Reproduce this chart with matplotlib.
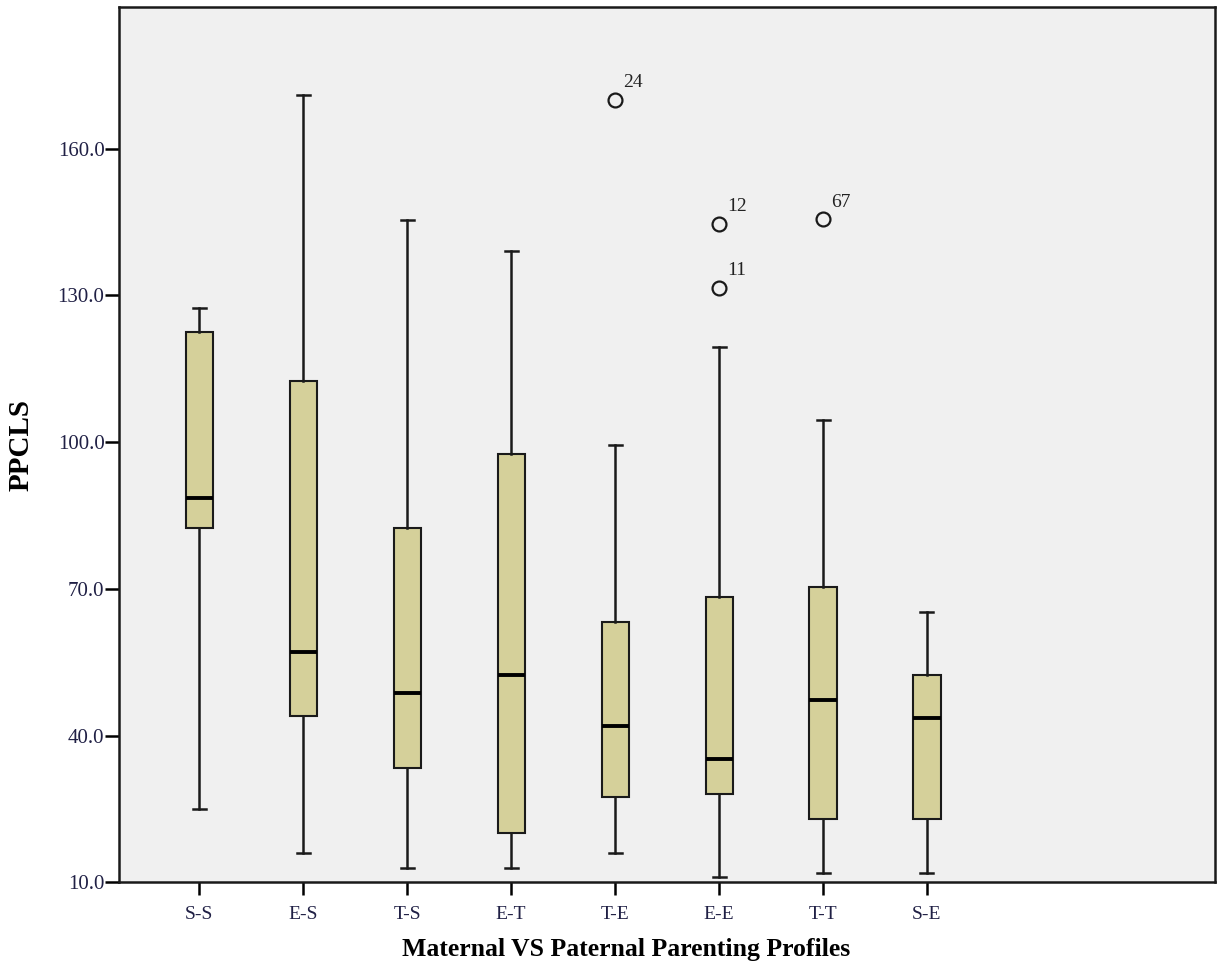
import matplotlib
matplotlib.use("Agg")
import matplotlib.pyplot as plt

plt.rcParams['font.family'] = ['Liberation Serif', 'DejaVu Serif']

# summary values
groups = ['S-S', 'E-S', 'T-S', 'E-T', 'T-E', 'E-E', 'T-T', 'S-E']
whis_lo = [25, 16, 13, 13, 16, 11, 12, 12]
q1 = [82.5, 44, 33.3, 20, 27.5, 28, 23, 23]
medians = [88.5, 57, 48.8, 52.3, 42, 35.3, 47.2, 43.7]
q3 = [122.5, 112.5, 82.5, 97.5, 63.2, 68.3, 70.4, 52.3]
whis_hi = [127.5, 171, 145.5, 139, 99.5, 119.5, 104.5, 65.3]

# outliers: (group index, value, case label)
out_group = [4, 5, 5, 6]
out_value = [170, 144.7, 131.6, 145.6]
out_label = ['24', '12', '11', '67']

stats = []
for i, g in enumerate(groups):
    fl = [v for gi, v in zip(out_group, out_value) if gi == i]
    stats.append(dict(label=g, whislo=whis_lo[i], q1=q1[i], med=medians[i],
                      q3=q3[i], whishi=whis_hi[i], fliers=fl))

fig = plt.figure(figsize=(12.22, 9.68), dpi=100)
ax = fig.add_axes([0.0974, 0.0885, 0.8969, 0.9043])
ax.set_facecolor('#f0f0f0')

pos = list(range(1, len(groups) + 1))
ax.bxp(stats, positions=pos, widths=0.26, patch_artist=True, capwidths=0.125,
       boxprops=dict(facecolor='#d5d09a', edgecolor='#1a1a1a', linewidth=1.5),
       medianprops=dict(color='black', linewidth=2.8),
       whiskerprops=dict(color='#1a1a1a', linewidth=1.8),
       capprops=dict(color='#1a1a1a', linewidth=1.8),
       flierprops=dict(marker='o', markersize=10, markerfacecolor='none',
                       markeredgecolor='#1a1a1a', markeredgewidth=1.6))

for gi, v, lab in zip(out_group, out_value, out_label):
    ax.annotate(lab, (pos[gi], v), xytext=(6, 9), textcoords='offset points',
                fontsize=14, color='#222222')

ax.set_xlim(0.23, 10.77)
ax.set_ylim(10, 189)
ax.set_yticks([10, 40, 70, 100, 130, 160])
ax.set_yticklabels(['%.1f' % t for t in [10, 40, 70, 100, 130, 160]])
ax.set_xticks(pos)
ax.set_xticklabels(groups)

for s in ax.spines.values():
    s.set_linewidth(1.8)
    s.set_color('#1a1a1a')
ax.tick_params(axis='y', length=10, width=1.8, labelsize=15, labelcolor='#202045', pad=0.5)
ax.tick_params(axis='x', length=9, width=1.8, labelsize=14, labelcolor='#202045', pad=8)

ax.set_xlabel('Maternal VS Paternal Parenting Profiles', fontsize=18.5, fontweight='bold')
ax.xaxis.set_label_coords(0.4626, -0.064)
ax.set_ylabel('PPCLS', fontsize=21, fontweight='bold')
ax.yaxis.set_label_coords(-0.077, 0.5)

fig.savefig('out.png', dpi=100)
